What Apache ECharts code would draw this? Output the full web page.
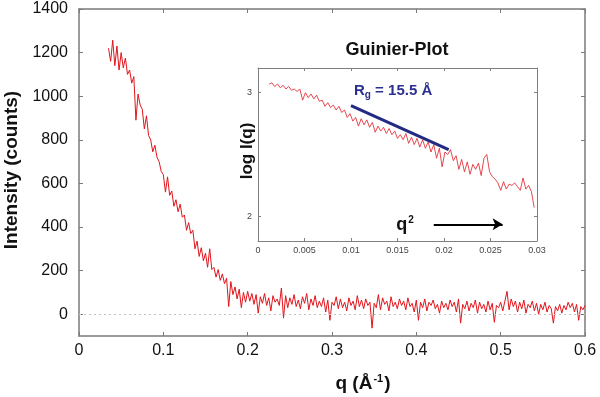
<!DOCTYPE html>
<html>
<head>
<meta charset="utf-8">
<script src="https://cdn.jsdelivr.net/npm/echarts@6/dist/echarts.min.js"></script>
<style>
  html, body { margin: 0; padding: 0; background: #fff; }
  #chart { width: 600px; height: 397px; }
</style>
</head>
<body>
<div id="chart"></div>
<script>
// main scattering curve, sampled on a regular q grid
const qStart = 0.035
const qStep = 0.0025
const intensity = [
  1220, 1160, 1257, 1140, 1230, 1120, 1200, 1130, 1175, 1100,
  1120, 1060, 1090, 890, 1010, 960, 940, 850, 910, 820,
  800, 745, 775, 720, 700, 655, 640, 560, 630, 545,
  565, 495, 525, 470, 505, 445, 455, 385, 420, 370,
  385, 300, 335, 265, 305, 245, 280, 215, 300, 205,
  215, 170, 205, 155, 185, 140, 165, 35, 150, 90,
  125, 70, 115, 30, 100, 55, 105, 60, 95, 45,
  90, 5, 80, 50, 95, 40, 75, 15, 85, 55,
  70, 40, 120, -18, 85, 30, 75, 45, 90, 35,
  65, 25, 80, 50, 95, 20, 70, 40, 85, 30,
  60, 35, 75, 10, 65, -28, 55, 40, 80, 25,
  70, 30, 55, 15, 75, 40, 60, 20, 85, 35,
  65, 25, 70, 40, 55, -64, 50, 30, 90, 20,
  75, 45, 60, 15, 80, 35, 55, 25, 70, 40,
  60, 20, 75, 35, 50, 10, 65, -28, 55, 30,
  70, 15, 55, 40, 65, 25, 45, 5, 60, 30,
  50, 20, 65, 35, 55, 10, 70, -41, 45, 25,
  60, 15, 50, 30, 65, 5, 55, 25, 45, 10,
  60, 20, 50, -37, 40, 30, 55, 15, 60, 105,
  20, 70, 35, 60, 10, 55, 25, 65, 5, 45,
  30, 60, 15, 50, 0, 45, 20, 55, 10, 40,
  25, -41, 35, 15, 45, 5, 40, 20, 55, 30,
  50, 10, 45, -28, 35, 20, 40
]

// guinier inset: log I against q^2
const q2Start = 0.0012
const q2Step = 0.0003
const logI = [
  3.07, 3.08, 3.05, 3.07, 3.04, 3.06, 3.03, 3.05, 3.02, 3.03,
  3.01, 3.03, 2.94, 3.00, 2.96, 2.99, 2.95, 2.98, 2.93, 2.94,
  2.89, 2.92, 2.88, 2.90, 2.86, 2.89, 2.84, 2.86, 2.80, 2.83,
  2.77, 2.80, 2.73, 2.79, 2.74, 2.78, 2.72, 2.76, 2.68, 2.73,
  2.69, 2.72, 2.67, 2.71, 2.66, 2.69, 2.63, 2.66, 2.62, 2.67,
  2.59, 2.64, 2.58, 2.63, 2.56, 2.62, 2.55, 2.60, 2.52, 2.58,
  2.47, 2.55, 2.40, 2.52, 2.50, 2.54, 2.45, 2.49, 2.38, 2.46,
  2.36, 2.44, 2.34, 2.42, 2.38, 2.43, 2.33, 2.47, 2.50, 2.36,
  2.32, 2.30, 2.27, 2.21, 2.28, 2.22, 2.26, 2.25, 2.27, 2.24,
  2.21, 2.31, 2.22, 2.25, 2.20, 2.07
]

const fitLine = [[0.0100, 2.895], [0.0205, 2.54]]
const arrowLine = [[0.0189, 1.935], [0.0263, 1.935]]

const mainYTicks = [0, 200, 400, 600, 800, 1000, 1200, 1400]
const insetYTicks = [2, 3]

const font = 'Liberation Sans, Arial, sans-serif'

let mainData = intensity.map((v, i) => [+(qStart + i * qStep).toFixed(4), v])
let insetData = logI.map((v, i) => [+(q2Start + i * q2Step).toFixed(5), v])

let axisGrey = { onZero: false, lineStyle: { color: '#7a7a7a', width: 1.5 } }
let insetGrey = { onZero: false, lineStyle: { color: '#808080', width: 1 } }
let plain = v => String(v)

let chart = echarts.init(document.getElementById('chart'), null, { renderer: 'canvas' })
chart.setOption({
  animation: false,
  backgroundColor: '#fff',
  grid: [
    { left: 79, right: 15, top: 9, bottom: 61 },
    { left: 258, top: 68, width: 279, height: 173 }
  ],
  xAxis: [
    {
      type: 'value', gridIndex: 0, min: 0, max: 0.6, interval: 0.1,
      axisLine: axisGrey,
      axisTick: { inside: true, length: 4, lineStyle: { color: '#7a7a7a' } },
      axisLabel: { color: '#111', fontSize: 16, fontFamily: font, margin: 7 },
      splitLine: { show: false }
    },
    {
      type: 'value', gridIndex: 0, position: 'top', min: 0, max: 0.6, interval: 0.1,
      axisLine: axisGrey,
      axisTick: { inside: true, length: 4, lineStyle: { color: '#7a7a7a' } },
      axisLabel: { show: false },
      splitLine: { show: false }
    },
    {
      type: 'value', gridIndex: 1, min: 0, max: 0.03, interval: 0.005,
      axisLine: insetGrey,
      axisTick: { inside: true, length: 3, lineStyle: { color: '#808080' } },
      axisLabel: { color: '#444', fontSize: 9, fontFamily: font, margin: 5 },
      splitLine: { show: false }
    },
    {
      type: 'value', gridIndex: 1, position: 'top', min: 0, max: 0.03, interval: 0.005,
      axisLine: insetGrey,
      axisTick: { inside: true, length: 3, lineStyle: { color: '#808080' } },
      axisLabel: { show: false },
      splitLine: { show: false }
    }
  ],
  yAxis: [
    {
      type: 'value', gridIndex: 0, min: -100, max: 1400, interval: 100,
      axisLine: axisGrey,
      axisTick: { inside: true, length: 4, customValues: mainYTicks, lineStyle: { color: '#7a7a7a' } },
      axisLabel: { color: '#111', fontSize: 16, fontFamily: font, margin: 11, customValues: mainYTicks, formatter: plain },
      splitLine: { show: false }
    },
    {
      type: 'value', gridIndex: 0, position: 'right', min: -100, max: 1400, interval: 100,
      axisLine: axisGrey,
      axisTick: { inside: true, length: 4, customValues: mainYTicks, lineStyle: { color: '#7a7a7a' } },
      axisLabel: { show: false },
      splitLine: { show: false }
    },
    {
      type: 'value', gridIndex: 1, min: 1.8, max: 3.2,
      axisLine: insetGrey,
      axisTick: { inside: true, length: 3, customValues: insetYTicks, lineStyle: { color: '#808080' } },
      axisLabel: { color: '#444', fontSize: 9, fontFamily: font, margin: 6, customValues: insetYTicks },
      splitLine: { show: false }
    },
    {
      type: 'value', gridIndex: 1, position: 'right', min: 1.8, max: 3.2,
      axisLine: insetGrey,
      axisTick: { inside: true, length: 3, customValues: insetYTicks, lineStyle: { color: '#808080' } },
      axisLabel: { show: false },
      splitLine: { show: false }
    }
  ],
  series: [
    {
      name: 'intensity', type: 'line', xAxisIndex: 0, yAxisIndex: 0,
      data: mainData, showSymbol: false,
      lineStyle: { color: '#e3141c', width: 1 },
      markLine: {
        silent: true, symbol: 'none', label: { show: false },
        lineStyle: { color: '#c4c4c4', type: [2, 3], width: 1 },
        data: [{ yAxis: 0 }]
      }
    },
    {
      name: 'guinier', type: 'line', xAxisIndex: 2, yAxisIndex: 2,
      data: insetData, showSymbol: false,
      lineStyle: { color: '#e2343c', width: 0.9 }
    },
    {
      name: 'fit', type: 'line', xAxisIndex: 2, yAxisIndex: 2,
      data: fitLine, showSymbol: false,
      lineStyle: { color: '#232a84', width: 3 },
      markLine: {
        silent: true, symbol: ['none', 'arrow'], symbolSize: [9, 10],
        label: { show: false },
        lineStyle: { color: '#000', width: 2, type: 'solid' },
        data: [[{ coord: arrowLine[0] }, { coord: arrowLine[1] }]]
      }
    }
  ],
  graphic: [
    {
      type: 'text', x: 12, y: 170, rotation: Math.PI / 2,
      style: {
        text: 'Intensity (counts)', fill: '#111', font: 'bold 19px ' + font,
        align: 'center', verticalAlign: 'middle'
      }
    },
    {
      type: 'text', x: 363, y: 384,
      style: {
        text: '{b|q (Å}{s|-1}{b|)}', align: 'center', verticalAlign: 'middle',
        rich: {
          b: { fontSize: 19, fontWeight: 'bold', fontFamily: font, fill: '#111' },
          s: { fontSize: 11, fontWeight: 'bold', fontFamily: font, fill: '#111', padding: [0, 1, 10, 1] }
        }
      }
    },
    {
      type: 'text', x: 397, y: 50,
      style: {
        text: 'Guinier-Plot', fill: '#111', font: 'bold 18px ' + font,
        align: 'center', verticalAlign: 'middle'
      }
    },
    {
      type: 'text', x: 247, y: 151, rotation: Math.PI / 2,
      style: {
        text: 'log I(q)', fill: '#111', font: 'bold 17px ' + font,
        align: 'center', verticalAlign: 'middle'
      }
    },
    {
      type: 'text', x: 354, y: 91,
      style: {
        text: '{r|R}{g|g}{r| = 15.5 Å}', align: 'left', verticalAlign: 'middle',
        rich: {
          r: { fontSize: 15, fontWeight: 'bold', fontFamily: font, fill: '#2b3090' },
          g: { fontSize: 10, fontWeight: 'bold', fontFamily: font, fill: '#2b3090', padding: [8, 0, 0, 0] }
        }
      }
    },
    {
      type: 'text', x: 405, y: 225,
      style: {
        text: '{b|q}{s|2}', align: 'center', verticalAlign: 'middle',
        rich: {
          b: { fontSize: 18, fontWeight: 'bold', fontFamily: font, fill: '#111' },
          s: { fontSize: 10, fontWeight: 'bold', fontFamily: font, fill: '#111', padding: [0, 0, 10, 1] }
        }
      }
    }
  ]
})
</script>
</body>
</html>
